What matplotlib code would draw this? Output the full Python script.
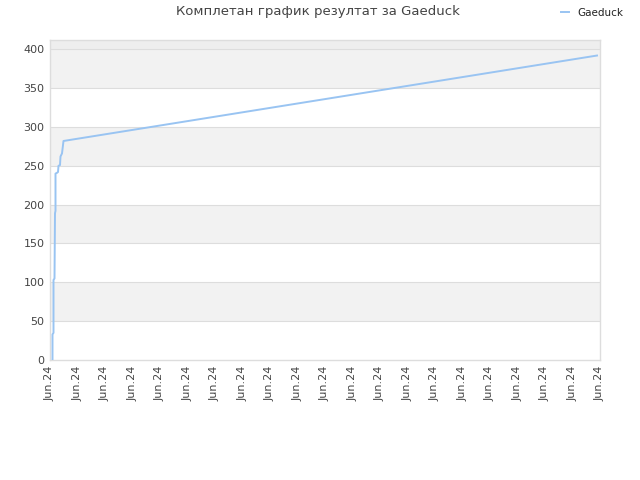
import matplotlib
matplotlib.use("Agg")
import matplotlib.pyplot as plt
import numpy as np

# points (x = position along the time axis, y = score)
xs = [2.5, 2.5, 3.5, 3.5, 4.5, 5.0, 5.5, 5.5, 7.0, 8.0, 8.5, 10.0, 10.5, 12.0, 13.5, 547.0]
ys = [0, 33, 35, 103, 105, 189, 192, 240, 241, 242, 250, 251, 262, 266, 282, 392]
tick_labels = ["Jun.24"] * 21
series_name = "Gaeduck"
title = "Комплетан график резултат за Gaeduck"

fig = plt.figure(figsize=(6.4, 4.8), dpi=100)
ax = fig.add_axes([50/640, 1 - 360/480, 550/640, 320/480])

ymax = 412
ax.set_xlim(0, 550)
ax.set_ylim(0, ymax)

# alternating bands
for lo in range(0, 400, 50):
    if (lo // 50) % 2 == 1:
        ax.axhspan(lo, lo + 50, color="#f2f2f2", zorder=0, lw=0)
ax.axhspan(400, ymax, color="#eeeeee", zorder=0, lw=0)
for y in range(50, 401, 50):
    ax.axhline(y, color="#dddddd", lw=0.8, zorder=1)

ax.plot(xs, ys, color="#99c4f2", lw=1.4, zorder=3, label=series_name)

ax.set_yticks(range(0, 401, 50))
ax.set_xticks(np.linspace(0, 550, 21))
ax.set_xticklabels(tick_labels, rotation=90)
ax.tick_params(axis="both", length=0, labelsize=8, colors="#444444", pad=4)

for s in ax.spines.values():
    s.set_color("#dddddd")
    s.set_linewidth(1)

fig.text(318/640, 1 - 12/480, title, ha="center", va="center", fontsize=9.5, color="#444444")
fig.legend(loc="center", bbox_to_anchor=(592/640, 1 - 13/480), frameon=False,
           fontsize=7.5, handlelength=0.8, handletextpad=0.8,
           labelcolor="#222222")

fig.savefig("out.png", dpi=100, facecolor="white")
